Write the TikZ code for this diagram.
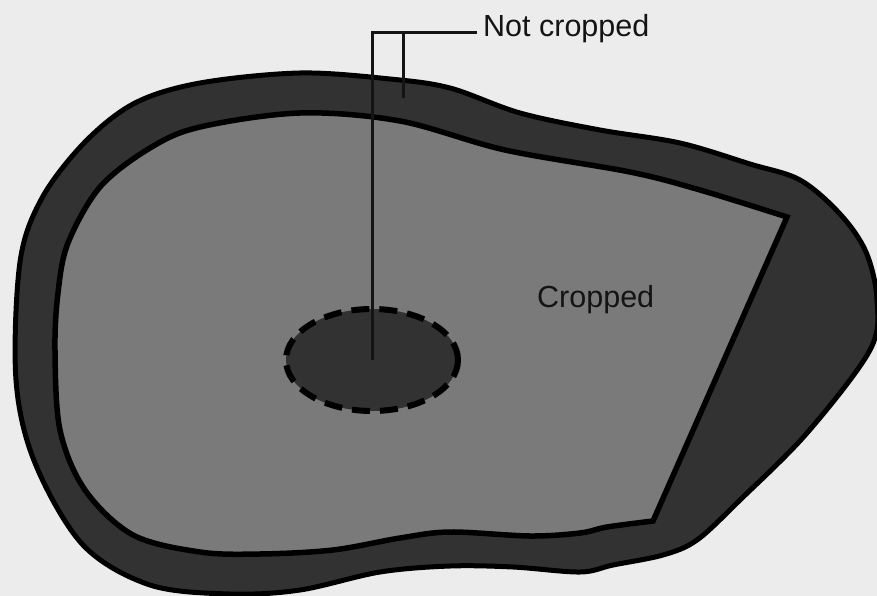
\documentclass[tikz,border=0pt]{standalone}
\usepackage{fontspec}
\setmainfont{Liberation Sans}
\usetikzlibrary{shapes.geometric}
\definecolor{paper}{RGB}{236,236,236}
\definecolor{band}{RGB}{50,50,50}
\definecolor{field}{RGB}{122,122,122}
\definecolor{ink}{RGB}{20,20,20}
\tikzset{
  leader/.style={draw=ink, line width=3pt},
  lbl/.style={anchor=base west, inner sep=0pt, text=ink, font=\fontsize{30.5}{36}\selectfont},
}
\begin{document}
\begin{tikzpicture}[x=1pt,y=-1pt]
\fill[paper] (0,0) rectangle (877,596);
\useasboundingbox (0,0) rectangle (877,596);
% outer (not cropped) band
\path[fill=band, draw=black, line width=5pt] plot[smooth cycle, tension=0.55] coordinates {
 (300,73) (390,79) (450,88) (520,113) (600,130) (680,143) (750,164) (800,180)
 (840,214) (866,252) (877,300) (870,350) (807,433) (740,500) (697,540) (663,555)
 (613,565) (580,572) (513,567) (450,566) (380,572) (300,590) (230,594) (150,585)
 (83,545) (35,463) (16,380) (20,262) (42,198) (85,142) (135,103) (200,83)};
% inner cropped field
\path[fill=field, draw=black, line width=5.5pt, line join=miter] plot[smooth, tension=0.55] coordinates {
 (653,521) (607,527) (580,533) (530,536) (450,532) (400,538) (333,550) (260,554) (200,552)
 (133,535) (85,490) (60,430) (55,350) (58,293) (68,243) (100,187) (150,148)
 (200,127) (300,113) (400,121) (505,150) (630,172) (700,190) (787,217)} -- cycle;
% spot not cropped
\node[ellipse, fill=band, draw=black, line width=6pt, dash pattern=on 18pt off 10pt,
      minimum width=172pt, minimum height=102pt, inner sep=0pt] (spot) at (372,360) {};
% labels
\node[lbl] (label) at (483,37) {Not cropped};
\node[lbl] (cropped) at (537,307) {Cropped};
% leaders
\coordinate (lend) at (477,33);
\coordinate (bandpt) at (403,98);
\draw[leader] (spot.center) |- (lend);
\draw[leader] (bandpt) -- (bandpt |- lend);
\end{tikzpicture}
\end{document}
